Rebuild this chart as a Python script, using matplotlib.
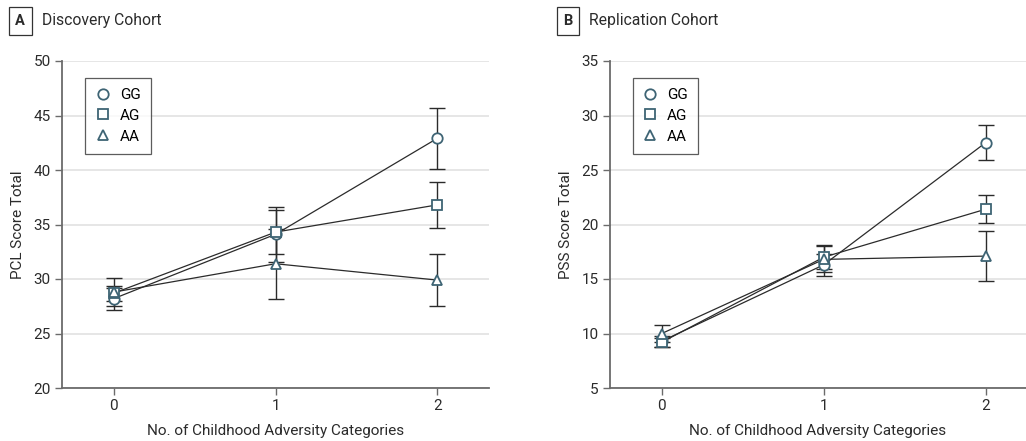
import matplotlib
matplotlib.use("Agg")
import matplotlib.pyplot as plt

plt.rcParams["font.family"] = ["Roboto", "DejaVu Sans"]

# Data
x = [0, 1, 2]
genotypes = ["GG", "AG", "AA"]
markers = {"GG": "o", "AG": "s", "AA": "^"}

# Panel A - Discovery cohort (PCL score total)
disc_mean = {
    "GG": [28.2, 34.1, 42.9],
    "AG": [28.7, 34.3, 36.8],
    "AA": [28.8, 31.4, 29.9],
}
disc_err = {
    "GG": [1.0, 2.5, 2.8],
    "AG": [0.7, 2.0, 2.1],
    "AA": [1.3, 3.2, 2.4],
}

# Panel B - Replication cohort (PSS score total)
repl_mean = {
    "GG": [9.3, 16.3, 27.5],
    "AG": [9.2, 17.0, 21.4],
    "AA": [10.0, 16.8, 17.1],
}
repl_err = {
    "GG": [0.5, 1.0, 1.6],
    "AG": [0.4, 1.1, 1.3],
    "AA": [0.8, 1.2, 2.3],
}

W, H = 1026, 441
fig = plt.figure(figsize=(W / 100, H / 100), dpi=100)

MARKER_COLOR = "#3e6474"
LINE_COLOR = "#2b2b2b"
GRID_COLOR = "#e4e4e4"
SPINE_COLOR = "#6b6b6b"
TEXT_COLOR = "#2b2b2b"
FS = 11


def draw_panel(ax, means, errs, ylim, yticks, ylabel):
    for g in genotypes:
        ax.errorbar(x, means[g], yerr=errs[g], fmt="none", ecolor=LINE_COLOR,
                    elinewidth=1.0, capsize=6, capthick=1.0, zorder=2)
        ax.plot(x, means[g], color=LINE_COLOR, lw=0.9, zorder=3)
        ax.plot(x, means[g], ls="none", marker=markers[g], ms=7.5,
                mfc="white", mec=MARKER_COLOR, mew=1.3, zorder=4)
    ax.set_ylim(*ylim)
    ax.set_yticks(yticks)
    ax.set_xticks(x)
    ax.grid(axis="y", color=GRID_COLOR, lw=1.3, zorder=0)
    ax.set_axisbelow(True)
    for s in ["top", "right"]:
        ax.spines[s].set_visible(False)
    for s in ["left", "bottom"]:
        ax.spines[s].set_color(SPINE_COLOR)
        ax.spines[s].set_linewidth(1.3)
    ax.tick_params(colors=SPINE_COLOR, labelcolor=TEXT_COLOR, labelsize=FS,
                   length=5, width=1.0, pad=3)
    ax.set_ylabel(ylabel, fontsize=FS, color=TEXT_COLOR, labelpad=6)
    ax.set_xlabel("No. of Childhood Adversity Categories", fontsize=FS,
                  color=TEXT_COLOR, labelpad=8)
    handles = [plt.Line2D([], [], ls="none", marker=markers[g], ms=7.5,
                          mfc="white", mec=MARKER_COLOR, mew=1.3)
               for g in genotypes]
    leg = ax.legend(handles, genotypes, loc="upper left",
                    bbox_to_anchor=(0.055, 0.948), fontsize=FS,
                    frameon=True, fancybox=False, handlelength=1.0,
                    handletextpad=0.6, borderpad=0.65, labelspacing=0.45,
                    borderaxespad=0)
    leg.get_frame().set_edgecolor("#333333")
    leg.get_frame().set_linewidth(0.9)


ax_a = fig.add_axes([62 / W, 1 - 388 / H, 427 / W, 327 / H])
draw_panel(ax_a, disc_mean, disc_err, (20, 50), range(20, 51, 5), "PCL Score Total")
ax_a.set_xlim(-0.32, 2.32)

ax_b = fig.add_axes([610 / W, 1 - 388 / H, 416 / W, 327 / H])
draw_panel(ax_b, repl_mean, repl_err, (5, 35), range(5, 36, 5), "PSS Score Total")
ax_b.set_xlim(-0.32, 2.25)

# Panel headers
for bx, tx, letter, title in [(20, 42, "A", "Discovery Cohort"),
                              (568, 589, "B", "Replication Cohort")]:
    fig.text(bx / W, 1 - 21 / H, letter, ha="center", va="center",
             fontsize=10.5, fontweight="bold", color=TEXT_COLOR,
             bbox=dict(boxstyle="square,pad=0.45", fc="white", ec="#333333", lw=0.9))
    fig.text(tx / W, 1 - 21 / H, title, ha="left", va="center",
             fontsize=11.3, color=TEXT_COLOR)

fig.savefig("out.png", dpi=100)
